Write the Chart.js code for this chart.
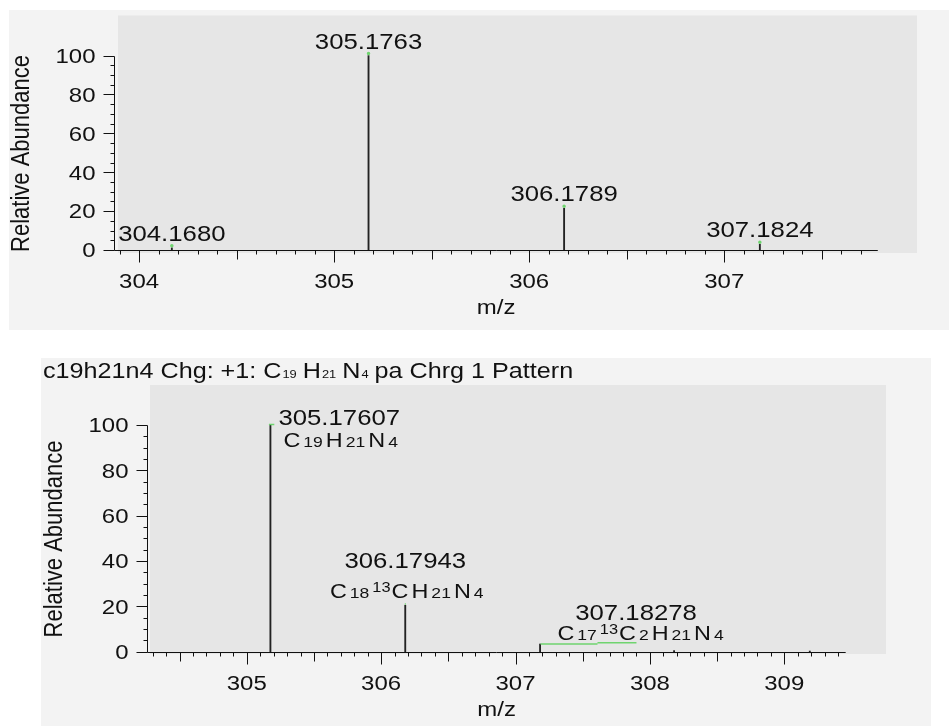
<!DOCTYPE html>
<html lang="en">
<head>
  <meta charset="UTF-8" />
  <title>Isotope pattern c19h21n4</title>
  <script src="https://cdn.jsdelivr.net/npm/chart.js@4.4.1/dist/chart.umd.min.js"></script>
  <style>
    html,body { margin:0; padding:0; background:#fff; }
    body      { width:949px; height:726px; position:relative; overflow:hidden; }
    .panel    { position:absolute; background:#f3f3f3; }
    #topPanel { left:9px;  top:10px;  width:940px; height:320px; }
    #botPanel { left:41px; top:358px; width:890px; height:368px; }
    canvas    { display:block; }
  </style>
</head>
<body>
  <div id="topPanel" class="panel"><canvas id="topChart" width="940" height="320"></canvas></div>
  <div id="botPanel" class="panel"><canvas id="botChart" width="890" height="368"></canvas></div>

  <script>
    /* ---------- data ---------- */
    // measured spectrum
    const topMz      = [304.1680, 305.1763, 306.1789, 307.1824];
    const topAbund   = [1.2, 100, 21.5, 3];
    const topLabels  = ["304.1680", "305.1763", "306.1789", "307.1824"];
    const topXTicks  = [304, 305, 306, 307];

    // simulated pattern
    const botMz      = [305.17607, 306.17943, 307.18278, 308.18, 309.19];
    const botAbund   = [100, 20.5, 3.4, 0.5, 0.3];
    const botLabels  = ["305.17607", "306.17943", "307.18278"];
    const botXTicks  = [305, 306, 307, 308, 309];
    // green profile marks: [from m/z, to m/z, abundance]
    const botProfile = [[305.165, 305.205, 100.2], [306.176, 306.184, 21], [307.186, 307.61, 3.4], [307.61, 307.90, 4.0]];
    // formulas: [text, kind]  kind: n normal, b sub, p sup
    const botFormulas = [
      [["C","n"],["19","b"],["H","n"],["21","b"],["N","n"],["4","b"]],
      [["C","n"],["18","b"],["13","p"],["C","n"],["H","n"],["21","b"],["N","n"],["4","b"]],
      [["C","n"],["17","b"],["13","p"],["C","n"],["2","b"],["H","n"],["21","b"],["N","n"],["4","b"]]
    ];

    const yTicks = [0, 20, 40, 60, 80, 100];
    const title  = [["c19h21n4 Chg: +1: C","T"],["19","t"],["H","T"],["21","t"],["N","T"],["4","t"],["pa Chrg 1 Pattern","T"]];

    /* ---------- helpers ---------- */
    const FONT = '"Liberation Sans", Arial, Helvetica, sans-serif';
    const SX = 1.17;      // the source image is a bit stretched sideways

    function txt(ctx, s, x, y, size, align, rot){
      ctx.save();
      ctx.translate(x, y);
      if(rot){ ctx.rotate(-Math.PI/2); ctx.scale(1, SX); ctx.textBaseline = "middle"; }
      else   { ctx.scale(SX, 1); ctx.textBaseline = "alphabetic"; }
      ctx.font = size + "px " + FONT;
      ctx.fillStyle = "#111";
      ctx.textAlign = align || "left";
      ctx.fillText(s, 0, 0);
      const w = ctx.measureText(s).width * SX;
      ctx.restore();
      return w;
    }
    function width(ctx, s, size){
      ctx.font = size + "px " + FONT;
      return ctx.measureText(s).width * SX;
    }
    // formula with sub/superscripts, returns total width
    const fSize = {n:20, b:15, p:14, t:11, T:21.5};
    const fDy   = {n:0,  b:0,  p:-6, t:0,  T:0};
    const fGap  = {n:3,  b:3,  p:1,  t:6,  T:1};
    function formula(ctx, toks, x, y, align){
      let w = 0;
      toks.forEach(t => { w += width(ctx, t[0], fSize[t[1]]) + fGap[t[1]]; });
      let cx = align === "center" ? x - w/2 : x;
      toks.forEach(t => { cx += txt(ctx, t[0], cx, y + fDy[t[1]], fSize[t[1]], "left") + fGap[t[1]]; });
      return w;
    }

    /* ---------- axes + labels plugin ---------- */
    function spectrumPlugin(p){
      return {
        id: "spectrum_" + p.id,
        beforeDatasetsDraw(chart){
          const a = chart.chartArea, ctx = chart.ctx;
          ctx.save();
          ctx.fillStyle = "#e6e6e6";
          ctx.fillRect(a.left, a.top, a.right - a.left, a.bottom - a.top);
          ctx.restore();
        },
        afterDatasetsDraw(chart){
          const ctx = chart.ctx, xs = chart.scales.x, ys = chart.scales.y;
          const ax = Math.round(xs.getPixelForValue(p.axisFrom)) + 0.5;
          const axEnd = xs.getPixelForValue(p.axisTo);
          const ay = Math.round(ys.getPixelForValue(0)) + 0.5;
          const y100 = Math.round(ys.getPixelForValue(100)) + 0.5;
          ctx.save();
          ctx.strokeStyle = "#111";
          ctx.lineWidth = 1;
          ctx.beginPath();
          // y axis
          ctx.moveTo(ax, y100); ctx.lineTo(ax, ay);
          for(let v = 0; v <= 100; v += 5){
            const y = Math.round(ys.getPixelForValue(v)) + 0.5;
            ctx.moveTo(ax - (v % 20 === 0 ? 11 : 4), y); ctx.lineTo(ax, y);
          }
          // x axis
          ctx.moveTo(ax, ay); ctx.lineTo(axEnd, ay);
          for(let t = Math.ceil(p.axisFrom * 10); t <= p.axisTo * 10; t++){
            const x = Math.round(xs.getPixelForValue(t / 10)) + 0.5;
            const len = t % 10 === 0 ? 12 : (t % 5 === 0 ? 9 : 4);
            ctx.moveTo(x, ay); ctx.lineTo(x, ay + len);
          }
          ctx.stroke();
          ctx.restore();

          // tick labels
          yTicks.forEach(v => txt(ctx, String(v), ax - 19, ys.getPixelForValue(v) + 7.3, 20.5, "right"));
          p.xTicks.forEach(v => txt(ctx, String(v), xs.getPixelForValue(v), ay + 37, 20.5, "center"));
          txt(ctx, "m/z", (ax + axEnd) / 2, ay + 63, 20.5, "center");
          txt(ctx, "Relative Abundance", ax - 93, (ay + y100) / 2, 22, "center", true);

          p.drawLabels(ctx, xs, ys);
        }
      };
    }

    function makePanel(p){
      const datasets = [{
        type: "bar",
        data: p.mz.map((x, i) => ({x: x, y: p.ab[i]})),
        backgroundColor: "#222",
        barThickness: 1.2,
        order: 2
      }];
      p.green.forEach(d => datasets.push(Object.assign({
        type: "line", borderColor: "#6fd46f", backgroundColor: "#6fd46f",
        borderWidth: 1.5, pointRadius: 0, spanGaps: false, order: 1
      }, d)));

      return new Chart(document.getElementById(p.id), {
        type: "bar",
        data: { datasets },
        options: {
          responsive: false, animation: false, devicePixelRatio: 1,
          layout: { padding: p.padding },
          plugins: { legend: {display:false}, tooltip: {enabled:false} },
          scales: {
            x: { type: "linear", min: p.xMin, max: p.xMax, display: false, offset: false },
            y: { min: p.yMin, max: p.yMax, display: false }
          }
        },
        plugins: [spectrumPlugin(p)]
      });
    }

    /* ---------- top: measured ---------- */
    makePanel({
      id: "topChart", mz: topMz, ab: topAbund, xTicks: topXTicks,
      xMin: 303.892, xMax: 307.988, yMin: -1.5, yMax: 120.6,
      axisFrom: 303.87, axisTo: 307.787,
      padding: {left:109, top:0, right:32, bottom:77},
      green: [{ showLine: false, pointRadius: 1, data: topMz.map((x, i) => ({x: x, y: topAbund[i] + 1})) }],
      drawLabels(ctx, xs, ys){
        topMz.forEach((x, i) => txt(ctx, topLabels[i], xs.getPixelForValue(x), ys.getPixelForValue(topAbund[i]) - 7, 22, "center"));
      }
    });

    /* ---------- bottom: simulated pattern ---------- */
    // label offsets from the peak top, in px: [number dx, dy, align, formula dx, dy]
    const botLabelPos = [[8, 0, "left", 13, 22], [0, -37, "center", 3, -7], [96, -24, "center", 102, -4]];
    makePanel({
      id: "botChart", mz: botMz, ab: botAbund, xTicks: botXTicks,
      xMin: 304.28, xMax: 309.757, yMin: -1.0, yMax: 117.6,
      axisFrom: 304.256, axisTo: 309.457,
      padding: {left:109, top:27, right:45, bottom:72},
      green: [{ data: botProfile.flatMap(s => [{x:s[0], y:s[2]}, {x:s[1], y:s[2]}, {x:s[1], y:null}]) }],
      drawLabels(ctx, xs, ys){
        botLabels.forEach((s, i) => {
          const px = xs.getPixelForValue(botMz[i]), py = ys.getPixelForValue(botAbund[i]);
          const L = botLabelPos[i];
          txt(ctx, s, px + L[0], py + L[1], 22, L[2]);
          formula(ctx, botFormulas[i], px + L[3], py + L[4], L[2]);
        });
        formula(ctx, title, 2, 19.5, "left");
      }
    });
  </script>
</body>
</html>
